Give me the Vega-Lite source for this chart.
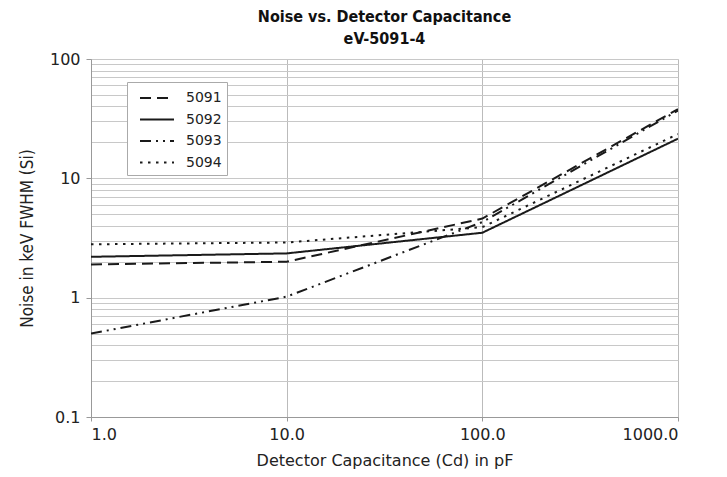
{
  "$schema": "https://vega.github.io/schema/vega-lite/v6.json",
  "width": 587,
  "height": 358,
  "autosize": "none",
  "padding": {"left": 91, "top": 59, "right": 49, "bottom": 60},
  "background": "white",
  "title": {
    "text": ["Noise vs. Detector Capacitance", "eV-5091-4"],
    "font": "DejaVu Sans Condensed, Liberation Sans, sans-serif",
    "fontWeight": "bold",
    "fontSize": 16,
    "lineHeight": 22,
    "color": "#111",
    "anchor": "middle",
    "offset": 4
  },
  "data": {
    "values": [
      {"cap": 1, "noise": 1.9, "series": "5091"},
      {"cap": 10, "noise": 2.0, "series": "5091"},
      {"cap": 100, "noise": 4.6, "series": "5091"},
      {"cap": 1000, "noise": 38, "series": "5091"},
      {"cap": 1, "noise": 2.2, "series": "5092"},
      {"cap": 10, "noise": 2.35, "series": "5092"},
      {"cap": 100, "noise": 3.5, "series": "5092"},
      {"cap": 1000, "noise": 21.5, "series": "5092"},
      {"cap": 1, "noise": 0.5, "series": "5093"},
      {"cap": 10, "noise": 1.02, "series": "5093"},
      {"cap": 100, "noise": 4.3, "series": "5093"},
      {"cap": 1000, "noise": 37, "series": "5093"},
      {"cap": 1, "noise": 2.8, "series": "5094"},
      {"cap": 10, "noise": 2.9, "series": "5094"},
      {"cap": 100, "noise": 3.9, "series": "5094"},
      {"cap": 1000, "noise": 23.5, "series": "5094"}
    ]
  },
  "mark": {"type": "line", "color": "#1a1a1a", "strokeWidth": 2, "clip": true},
  "encoding": {
    "x": {
      "field": "cap",
      "type": "quantitative",
      "scale": {"type": "log", "domain": [1, 1000], "nice": false},
      "axis": {
        "values": [1, 10, 100, 1000],
        "format": ".1f",
        "title": "Detector Capacitance (Cd) in pF",
        "grid": true,
        "gridColor": "#bbbbbb",
        "gridWidth": 1,
        "domainColor": "#999999",
        "tickColor": "#999999",
        "tickSize": 4,
        "labelFont": "DejaVu Sans, Liberation Sans, sans-serif",
        "labelFontSize": 16,
        "labelColor": "#222",
        "labelPadding": 5,
        "titleFont": "DejaVu Sans, Liberation Sans, sans-serif",
        "titleFontSize": 16,
        "titleFontWeight": "normal",
        "titleColor": "#222",
        "titlePadding": 10
      }
    },
    "y": {
      "field": "noise",
      "type": "quantitative",
      "scale": {"type": "log", "domain": [0.1, 100], "nice": false},
      "axis": {
        "values": [0.1, 0.2, 0.3, 0.4, 0.5, 0.6, 0.7, 0.8, 0.9, 1, 2, 3, 4, 5, 6, 7, 8, 9, 10, 20, 30, 40, 50, 60, 70, 80, 90, 100],
        "labelExpr": "abs(log(datum.value)/LN10 - round(log(datum.value)/LN10)) < 1e-6 ? format(datum.value, '~g') : ''",
        "tickOpacity": {"condition": {"test": "abs(log(datum.value)/LN10 - round(log(datum.value)/LN10)) < 1e-6", "value": 1}, "value": 0},
        "title": "Noise in keV FWHM (Si)",
        "grid": true,
        "gridColor": "#c8c8c8",
        "gridWidth": 1,
        "domainColor": "#999999",
        "tickColor": "#999999",
        "tickSize": 5,
        "labelFont": "DejaVu Sans, Liberation Sans, sans-serif",
        "labelFontSize": 16,
        "labelColor": "#222",
        "labelPadding": 6,
        "titleFont": "DejaVu Sans Condensed, Liberation Sans, sans-serif",
        "titleFontSize": 17,
        "titleFontWeight": "normal",
        "titleColor": "#222",
        "titlePadding": 13
      }
    },
    "strokeDash": {
      "field": "series",
      "type": "nominal",
      "scale": {
        "domain": ["5091", "5092", "5093", "5094"],
        "range": [[11, 6], [1, 0], [11, 5, 2, 5, 2, 5], [2.5, 5.5]]
      },
      "legend": {
        "title": null,
        "orient": "none",
        "legendX": 36,
        "legendY": 23,
        "fillColor": "white",
        "strokeColor": "#aaaaaa",
        "padding": 5,
        "symbolType": "M-1.7,0H1.7",
        "symbolSize": 400,
        "symbolStrokeWidth": 2,
        "symbolStrokeColor": "#1a1a1a",
        "symbolOffset": 14,
        "labelFont": "DejaVu Sans, Liberation Sans, sans-serif",
        "labelFontSize": 14,
        "labelColor": "#222",
        "labelExpr": "datum.label + ' '",
        "rowPadding": 3.5,
        "labelOffset": 18
      }
    }
  }
}
